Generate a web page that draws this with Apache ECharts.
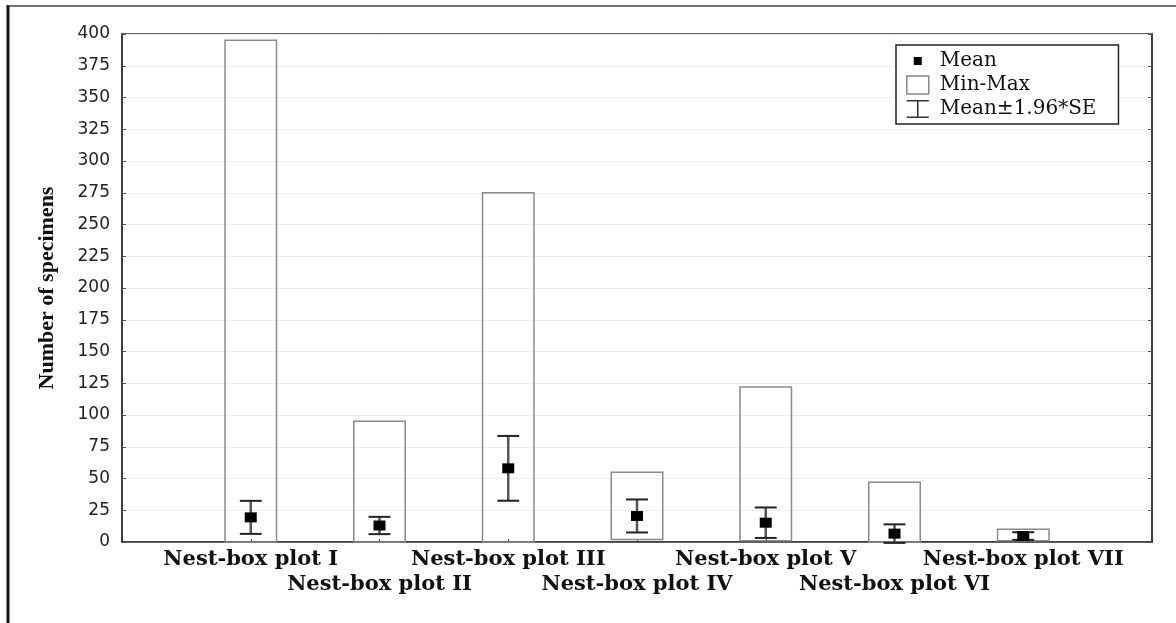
<!DOCTYPE html>
<html>
<head>
<meta charset="utf-8">
<script src="https://cdn.jsdelivr.net/npm/echarts@6/dist/echarts.min.js"></script>
<style>
	html, body { margin: 0; padding: 0; background: #fff; }
	#chart { width: 1176px; height: 623px; }
</style>
</head>
<body>
<div id="chart"></div>
<script>
	// plots
	var plots = ['Nest-box plot I', 'Nest-box plot II', 'Nest-box plot III', 'Nest-box plot IV',
		'Nest-box plot V', 'Nest-box plot VI', 'Nest-box plot VII'];
	var minVals = [0, 0, 0, 2, 1, 0, 1];
	var maxVals = [395, 95, 275, 55, 122, 47, 10];
	var meanVals = [19.4, 13, 58, 20.5, 15.2, 6.6, 4.7];
	var ciVals = [13, 6.8, 25.5, 13, 12, 7.3, 3]; // 1.96*SE
	var yTicks = {min: 0, max: 400, step: 25};

	// empty slot on each side, like the original axis
	var cats = [''].concat(plots, ['']);
	var boxData = plots.map(function(p, i){ return [i + 1, minVals[i], maxVals[i]]; });
	var errData = plots.map(function(p, i){ return [i + 1, meanVals[i] - ciVals[i], meanVals[i] + ciVals[i]]; });
	var meanData = plots.map(function(p, i){ return [i + 1, meanVals[i]]; });

	var chart = echarts.init(document.getElementById('chart'));

	var option = {
		backgroundColor: '#fff',
		animation: false,
		graphic: [
			{type: 'line', shape: {x1: 8, y1: 5, x2: 8, y2: 623}, style: {stroke: '#111', lineWidth: 3}},
			{type: 'line', shape: {x1: 8, y1: 6, x2: 1176, y2: 6}, style: {stroke: '#444', lineWidth: 1.5}}
		],
		grid: {
			left: 122, right: 24, top: 34, bottom: 81,
			show: true, borderColor: '#333', borderWidth: 1.5
		},
		legend: {
			orient: 'vertical',
			left: 896, top: 45,
			selectedMode: false,
			itemWidth: 22, itemHeight: 18, itemGap: 4,
			padding: [6, 22, 5, 10],
			backgroundColor: '#fff',
			borderColor: '#222', borderWidth: 1.5,
			textStyle: {fontFamily: 'DejaVu Serif', fontSize: 20, color: '#111', padding: [0, 0, 0, 6]},
			data: [
				{name: 'Mean', icon: 'path://M0,0L0,0M22,18L22,18M7,5H15V13H7Z', itemStyle: {color: '#000', borderWidth: 0}},
				{name: 'Min-Max', icon: 'rect', itemStyle: {color: '#fff', borderColor: '#888', borderWidth: 1.5}},
				{name: 'Mean±1.96*SE', icon: 'path://M0,0H22V1.6H11.8V16.4H22V18H0V16.4H10.2V1.6H0Z', itemStyle: {color: '#333', borderWidth: 0}}
			]
		},
		xAxis: {
			type: 'category',
			data: cats,
			boundaryGap: false,
			axisLine: {lineStyle: {color: '#333', width: 1.5}},
			axisTick: {inside: true, length: 3, interval: 0, lineStyle: {color: '#333'}},
			axisLabel: {
				interval: 0,
				margin: 5,
				fontFamily: 'DejaVu Serif',
				fontWeight: 'bold',
				fontSize: 21,
				lineHeight: 25,
				color: '#111',
				// staggered labels: even plots drop to a second row
				formatter: function(v, i){ return (i % 2 === 0 && v) ? '\n' + v : v; }
			},
			splitLine: {show: false}
		},
		yAxis: [{
			type: 'value',
			min: yTicks.min, max: yTicks.max, interval: yTicks.step,
			name: 'Number of specimens',
			nameLocation: 'middle',
			nameGap: 64,
			nameTextStyle: {fontFamily: 'Liberation Serif', fontWeight: 'bold', fontSize: 22, color: '#111'},
			axisLine: {show: true, lineStyle: {color: '#333', width: 1.5}},
			axisTick: {show: true, inside: true, length: 4, lineStyle: {color: '#555'}},
			axisLabel: {margin: 12, fontFamily: 'DejaVu Sans', fontSize: 17, color: '#222'},
			splitLine: {lineStyle: {color: '#ededed'}}
		}, {
			type: 'value',
			position: 'right',
			min: yTicks.min, max: yTicks.max, interval: yTicks.step,
			axisLine: {show: true, lineStyle: {color: '#333', width: 1.5}},
			axisTick: {show: true, inside: true, length: 4, lineStyle: {color: '#555'}},
			axisLabel: {show: false},
			splitLine: {show: false}
		}],
		series: [{
			name: 'Min-Max',
			type: 'custom',
			data: boxData,
			z: 2,
			renderItem: function(params, api){
				var lo = api.coord([api.value(0), api.value(1)]);
				var hi = api.coord([api.value(0), api.value(2)]);
				var w = api.size([1, 0])[0] * 0.4;
				return {
					type: 'rect',
					shape: {x: lo[0] - w / 2, y: hi[1], width: w, height: lo[1] - hi[1]},
					style: {fill: 'none', stroke: '#8a8a8a', lineWidth: 1.5}
				};
			}
		}, {
			name: 'Mean±1.96*SE',
			type: 'custom',
			data: errData,
			z: 3,
			renderItem: function(params, api){
				var lo = api.coord([api.value(0), api.value(1)]);
				var hi = api.coord([api.value(0), api.value(2)]);
				var hw = api.size([1, 0])[0] * 0.085;
				return {
					type: 'group',
					children: [
						{type: 'line', shape: {x1: lo[0], y1: lo[1], x2: hi[0], y2: hi[1]}, style: {stroke: '#555', lineWidth: 2.5}},
						{type: 'line', shape: {x1: lo[0] - hw, y1: lo[1], x2: lo[0] + hw, y2: lo[1]}, style: {stroke: '#222', lineWidth: 2}},
						{type: 'line', shape: {x1: hi[0] - hw, y1: hi[1], x2: hi[0] + hw, y2: hi[1]}, style: {stroke: '#222', lineWidth: 2}}
					]
				};
			}
		}, {
			name: 'Mean',
			type: 'scatter',
			data: meanData,
			z: 4,
			symbol: 'rect',
			symbolSize: [12, 10],
			itemStyle: {color: '#000', opacity: 1}
		}]
	};

	chart.setOption(option);
</script>
</body>
</html>
